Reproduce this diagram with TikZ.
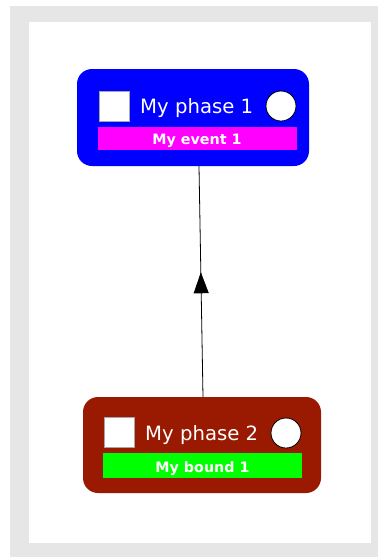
\documentclass[tikz,border=0pt]{standalone}
\usepackage{fontspec}
\setmainfont{DejaVu Sans}
\usetikzlibrary{decorations.markings,arrows.meta}
\definecolor{bgray}{HTML}{E6E6E6}
\definecolor{phaseblue}{HTML}{0000FF}
\definecolor{phasered}{HTML}{991A00}
\definecolor{evmag}{HTML}{FF00FF}
\definecolor{bdgreen}{HTML}{00FF00}
\tikzset{
  phasebox/.style={rounded corners=15pt, inner sep=0pt, draw=none},
  chkbox/.style={fill=white, draw=gray!70, line width=0.6pt, minimum width=30pt, minimum height=30pt, inner sep=0pt},
  dotcirc/.style={circle, fill=white, draw=black, line width=0.8pt, minimum size=30pt, inner sep=0pt},
  phasetext/.style={text=white, font=\fontsize{19.5pt}{23pt}\selectfont, inner sep=0pt},
  bartext/.style={text=white, font=\bfseries\fontsize{14.3pt}{17pt}\selectfont, inner sep=0pt},
  barbox/.style={inner sep=0pt, draw=none},
  link/.style={draw=black, line width=0.8pt, postaction={decorate},
    decoration={markings, mark=at position 0.54 with {\arrow{Triangle[length=21pt,width=15pt]}}}}
}
\begin{document}
\begin{tikzpicture}[x=1pt,y=-1pt]
\useasboundingbox (0,0) rectangle (378,558);
\fill[bgray] (10,6) rectangle (378,557);
\fill[white] (29,22) rectangle (371,543);
% phase 1
\fill[phaseblue, phasebox] (77,69) rectangle (309,166);
\node[phasebox, minimum width=232pt, minimum height=97pt] (n1) at (193,117.5) {};
\node[chkbox] (c1) at (114,106) {};
\node[phasetext, anchor=base west] (t1) at (140,113) {\resizebox{113pt}{!}{My phase 1}};
\node[dotcirc] (o1) at (281,106) {};
\node[barbox, fill=evmag, minimum width=199pt, minimum height=23pt] (e1) at (197.5,138.5) {};
\node[bartext, anchor=base] (et1) at (197,144) {My event 1};
% phase 2
\fill[phasered, phasebox] (83,397) rectangle (321,493);
\node[phasebox, minimum width=238pt, minimum height=96pt] (n2) at (202,445) {};
\node[chkbox] (c2) at (119,432) {};
\node[phasetext, anchor=base west] (t2) at (145,440) {\resizebox{113pt}{!}{My phase 2}};
\node[dotcirc] (o2) at (286,433) {};
\node[barbox, fill=bdgreen, minimum width=199pt, minimum height=25pt] (b2) at (202.5,465.5) {};
\node[bartext, anchor=base] (bt2) at (202.5,472) {My bound 1};
% connector
\draw[link] ([xshift=1pt]n2.north) -- ([xshift=6pt]n1.south);
\end{tikzpicture}
\end{document}
